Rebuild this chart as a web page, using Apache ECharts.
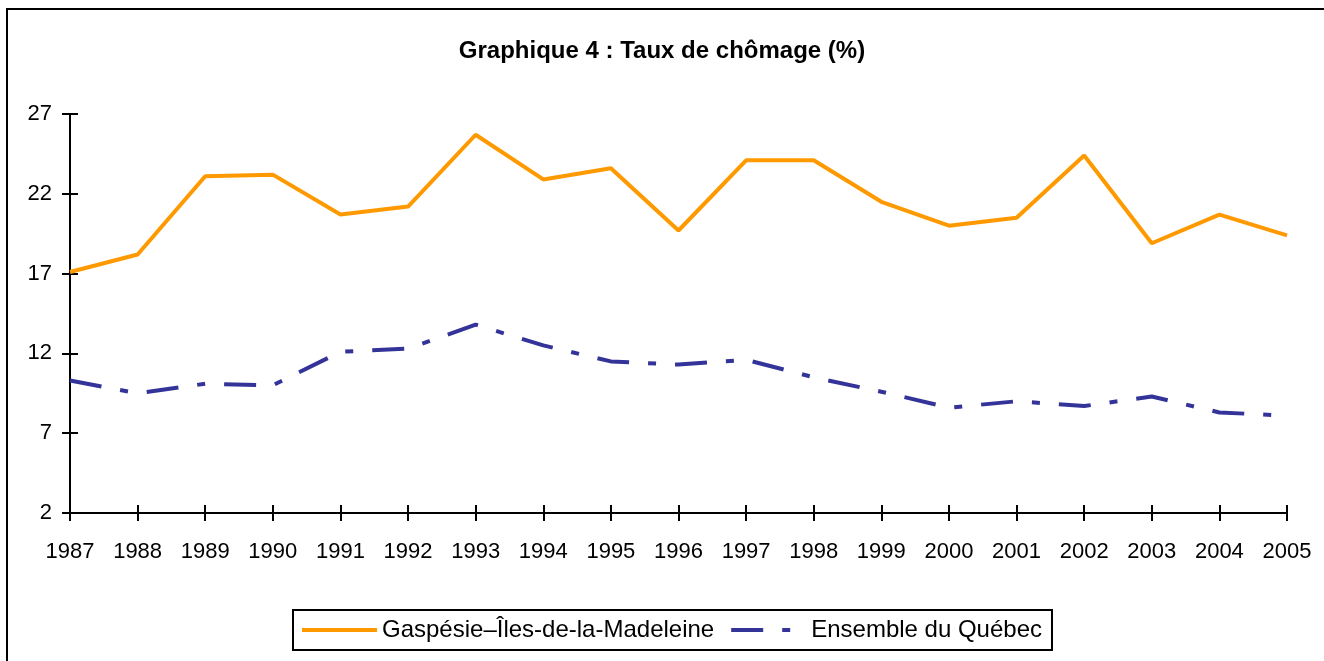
<!DOCTYPE html>
<html>
<head>
<meta charset="utf-8">
<script src="https://cdn.jsdelivr.net/npm/echarts@6/dist/echarts.min.js"></script>
<style>
    html, body { margin: 0; padding: 0; background: #fff; }
    #chart { width: 1324px; height: 661px; }
</style>
</head>
<body>
<div id="chart"></div>
<script>
// années
var years = ['1987', '1988', '1989', '1990', '1991', '1992', '1993', '1994', '1995', '1996',
             '1997', '1998', '1999', '2000', '2001', '2002', '2003', '2004', '2005'];
// taux de chômage (%)
var gaspesie = [17.1, 18.2, 23.1, 23.2, 20.7, 21.2, 25.7, 22.9, 23.6, 19.7,
                24.1, 24.1, 21.5, 20.0, 20.5, 24.4, 18.9, 20.7, 19.4];
var quebec = [10.3, 9.5, 10.1, 10.0, 12.1, 12.3, 13.8, 12.5, 11.5, 11.3,
              11.6, 10.5, 9.6, 8.6, 9.0, 8.7, 9.3, 8.3, 8.1];
var yMin = 2, yMax = 27, yStep = 5;

var font = 'Liberation Sans, Arial, sans-serif';
var myChart = echarts.init(document.getElementById('chart'));

var option = {
    animation: false,
    backgroundColor: '#fff',
    textStyle: { fontFamily: font, color: '#000' },
    graphic: [{
        type: 'rect',
        shape: { x: 7, y: 9, width: 1400, height: 700 },
        style: { fill: null, stroke: '#000', lineWidth: 2 },
        silent: true
    }],
    title: {
        text: 'Graphique 4 : Taux de chômage (%)',
        left: 'center',
        top: 34,
        textStyle: { fontFamily: font, fontSize: 24, fontWeight: 'bold', color: '#000' }
    },
    legend: {
        left: 293,
        top: 610,
        padding: [8, 10, 8, 7],
        itemGap: 15,
        itemWidth: 75,
        itemHeight: 14,
        borderColor: '#000',
        borderWidth: 2,
        borderRadius: 0,
        // pas de symbole, seulement le trait
        itemStyle: { opacity: 0 },
        lineStyle: { width: 4 },
        textStyle: { fontFamily: font, fontSize: 24, color: '#000' },
        data: ['Gaspésie–Îles-de-la-Madeleine', 'Ensemble du Québec']
    },
    grid: {
        left: 70,
        right: 37,
        top: 114,
        bottom: 148,
        containLabel: false
    },
    xAxis: [
        {
            type: 'category',
            data: years,
            boundaryGap: false,
            axisLine: { lineStyle: { color: '#000', width: 2 } },
            axisTick: { length: 8, lineStyle: { color: '#000', width: 2 } },
            axisLabel: { color: '#000', fontSize: 22, fontFamily: font, margin: 28, interval: 0 },
            splitLine: { show: false }
        },
        {
            // ticks vers l'intérieur
            type: 'category',
            data: years,
            position: 'bottom',
            boundaryGap: false,
            axisLine: { show: false },
            axisTick: { inside: true, length: 8, lineStyle: { color: '#000', width: 2 } },
            axisLabel: { show: false },
            splitLine: { show: false }
        }
    ],
    yAxis: [
        {
            type: 'value',
            min: yMin,
            max: yMax,
            interval: yStep,
            axisLine: { show: true, lineStyle: { color: '#000', width: 2 } },
            axisTick: { show: true, length: 8, lineStyle: { color: '#000', width: 2 } },
            axisLabel: { color: '#000', fontSize: 22, fontFamily: font, margin: 18 },
            splitLine: { show: false }
        },
        {
            type: 'value',
            position: 'left',
            min: yMin,
            max: yMax,
            interval: yStep,
            axisLine: { show: false },
            axisTick: { show: true, inside: true, length: 8, lineStyle: { color: '#000', width: 2 } },
            axisLabel: { show: false },
            splitLine: { show: false }
        }
    ],
    series: [
        {
            name: 'Gaspésie–Îles-de-la-Madeleine',
            type: 'line',
            data: gaspesie,
            symbol: 'none',
            color: '#FF9900',
            lineStyle: { color: '#FF9900', width: 4 }
        },
        {
            name: 'Ensemble du Québec',
            type: 'line',
            data: quebec,
            symbol: 'none',
            color: '#333399',
            lineStyle: { color: '#333399', width: 4, type: [32, 19, 8, 19], cap: 'butt' }
        }
    ]
};

myChart.setOption(option);
window.onresize = myChart.resize;
</script>
</body>
</html>
